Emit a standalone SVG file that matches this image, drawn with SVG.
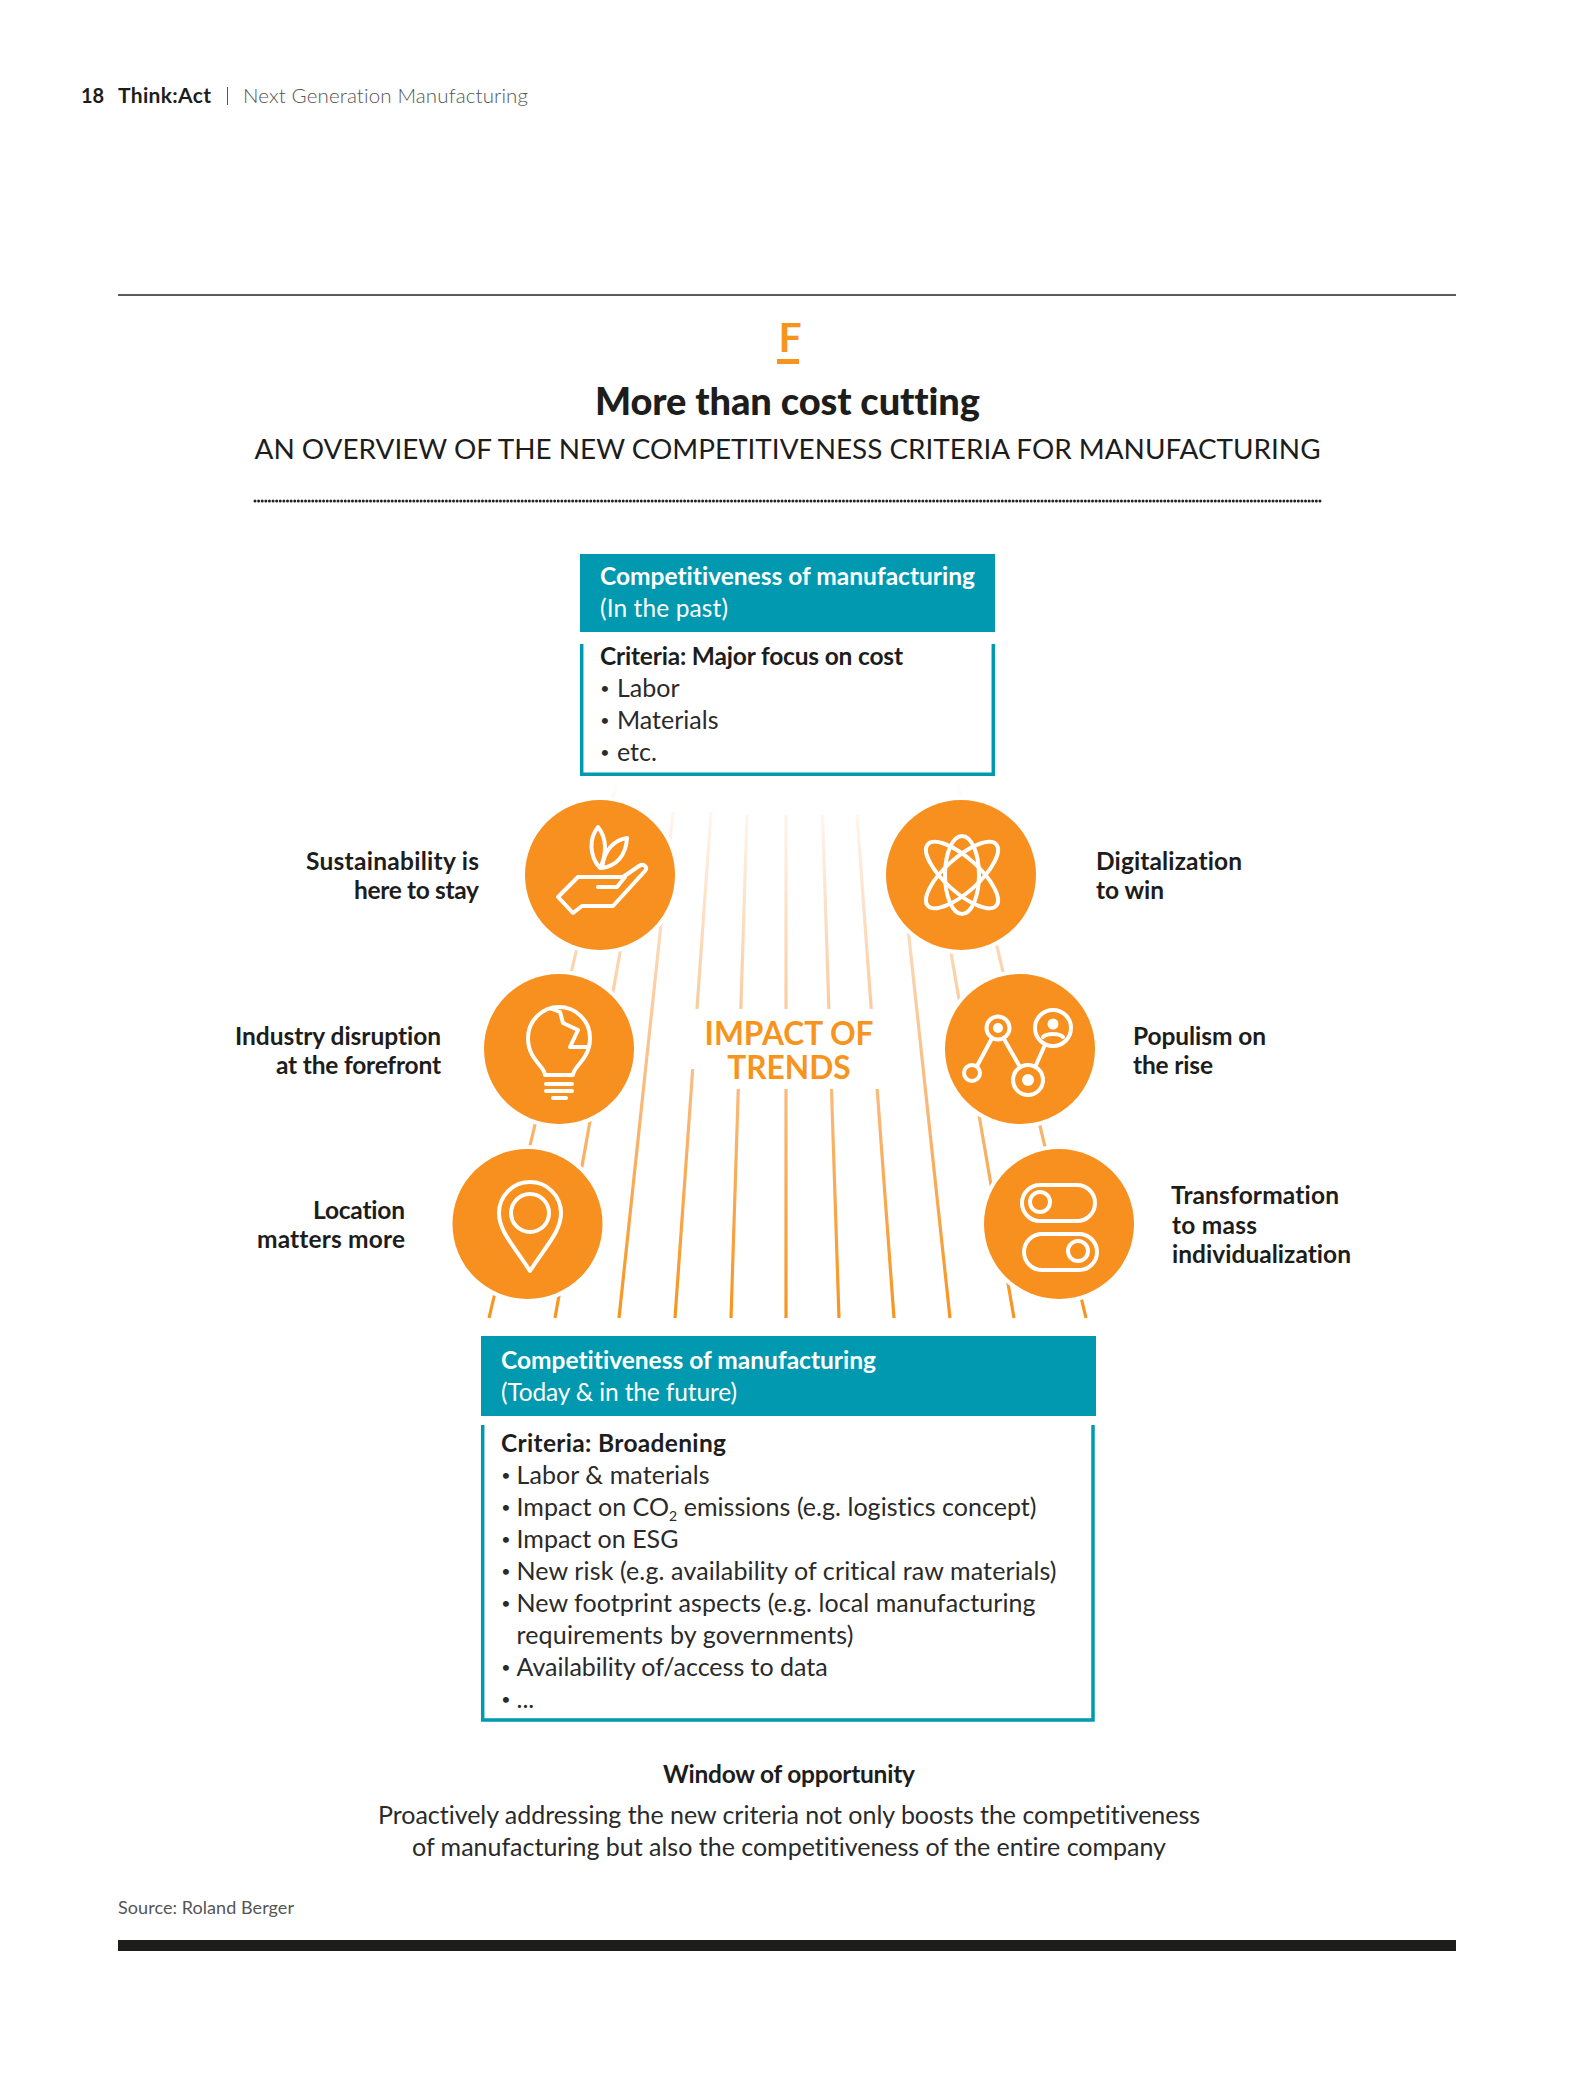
<svg xmlns="http://www.w3.org/2000/svg" width="1575" height="2087" viewBox="0 0 1575 2087">
<defs>
<linearGradient id="fade" gradientUnits="userSpaceOnUse" x1="0" y1="1318" x2="0" y2="790">
<stop offset="0" stop-color="#F7941E"/><stop offset="0.45" stop-color="#F9BC80"/><stop offset="0.8" stop-color="#FCE3CB"/><stop offset="1" stop-color="#FFFBF8"/>
</linearGradient>
</defs>
<style>
text{font-family:"Lato","Liberation Sans",sans-serif;fill:#1d1d1b;font-variant-ligatures:none}
.b{font-weight:700}
.body{font-size:25px;fill:#2a2a2a}
.head{font-size:24.500px;font-weight:700;fill:#fff}
.sub{font-size:24.500px;fill:#fff}
.crit{font-size:24.500px;font-weight:700}
.bul{font-size:16px;text-anchor:middle;fill:#2a2a2a}
.lab{font-size:24.500px;font-weight:700}
.end{text-anchor:end}
.mid{text-anchor:middle}
.teal{fill:#0099B0}
.frame{fill:none;stroke:#0099B0;stroke-width:3.500}
.halo{fill:#fff}
.disc{fill:#F7901E}
.ic{fill:none;stroke:#fff;stroke-width:4;stroke-linejoin:round;stroke-linecap:round}
.dot{fill:#fff}
.ray{stroke:url(#fade);stroke-width:3.200;fill:none}
</style>
<rect width="1575" height="2087" fill="#fff"/>
<g id="page-header">
<text x="81" y="103" class="b" font-size="20">18</text>
<text x="118" y="103" class="b" font-size="21" textLength="93">Think:Act</text>
<rect x="227" y="87" width="1" height="18" fill="#555"/>
<text x="243" y="103" font-size="20.500" textLength="285" style="fill:#555;font-weight:300">Next Generation Manufacturing</text>
</g>
<g id="title">
<rect x="118" y="294.200" width="1338" height="1.600" fill="#333"/>
<text x="790" y="352" class="mid b" font-size="41" style="fill:#F7941E">F</text>
<rect x="777" y="359" width="22" height="5" fill="#F7941E"/>
<text x="787.500" y="415" class="mid" font-size="38" textLength="385" style="font-weight:900">More than cost cutting</text>
<text x="787.500" y="459" class="mid" font-size="27.900" textLength="1066">AN OVERVIEW OF THE NEW COMPETITIVENESS CRITERIA FOR MANUFACTURING</text>
<line x1="255" y1="501" x2="1321" y2="501" stroke="#222" stroke-width="3" stroke-linecap="round" stroke-dasharray="0.01 3.6"/>
</g>
<g id="connectors">
<line class="ray" x1="489" y1="1318" x2="616" y2="784"/>
<line class="ray" x1="555" y1="1318" x2="640" y2="840"/>
<line class="ray" x1="619" y1="1318" x2="673" y2="812"/>
<line class="ray" x1="675" y1="1318" x2="711" y2="812"/>
<line class="ray" x1="731" y1="1318" x2="747" y2="815"/>
<line class="ray" x1="786" y1="1318" x2="786" y2="815"/>
<line class="ray" x1="839" y1="1318" x2="822.500" y2="815"/>
<line class="ray" x1="894" y1="1318" x2="857" y2="815"/>
<line class="ray" x1="950" y1="1318" x2="905" y2="900"/>
<line class="ray" x1="1014" y1="1318" x2="935" y2="860"/>
<line class="ray" x1="1086" y1="1318" x2="958" y2="784"/>
</g>
<g id="impact-label">
<rect class="halo" x="690" y="1009" width="195" height="60"/>
<rect class="halo" x="694" y="1069" width="190" height="20"/>
<text x="789" y="1045" class="mid b" font-size="31.700" style="fill:#F7941E">IMPACT OF</text>
<text x="789" y="1079" class="mid b" font-size="31.700" style="fill:#F7941E">TRENDS</text>
</g>
<g id="box-past">
<rect class="teal" x="580" y="554" width="415" height="78"/>
<text x="600" y="585" class="head" textLength="375">Competitiveness of manufacturing</text>
<text x="600" y="617" class="sub" textLength="128">(In the past)</text>
<path class="frame" d="M581.700 644V774.300H993.300V644"/>
<text x="600" y="664.500" class="crit" textLength="303">Criteria: Major focus on cost</text>
<text x="605" y="694" class="bul">•</text><text x="617" y="697" class="body">Labor</text>
<text x="605" y="726" class="bul">•</text><text x="617" y="729" class="body">Materials</text>
<text x="605" y="758" class="bul">•</text><text x="617" y="761" class="body">etc.</text>
</g>
<g id="node-sustainability">
<circle class="halo" cx="600" cy="875" r="79"/><circle class="disc" cx="600" cy="875" r="75"/>
<path class="ic" d="M598 827C589 838 589 856 600 868C607 855 607 838 598 827Z"/>
<path class="ic" d="M627 838C614 840 604 850 602 868C616 866 626 856 627 838Z"/>
<path class="ic" d="M558 897L578 877H623L639 866C644 863 648 867 645 871L613 906H582L573 913Z"/>
<path class="ic" d="M598 887H617L625 877"/>
<text x="479" y="870" class="lab end" textLength="173">Sustainability is</text>
<text x="479" y="899" class="lab end" textLength="125">here to stay</text>
</g>
<g id="node-digitalization">
<circle class="halo" cx="961" cy="875" r="79"/><circle class="disc" cx="961" cy="875" r="75"/>
<ellipse class="ic" cx="962" cy="875" rx="17" ry="39"/>
<ellipse class="ic" cx="962" cy="875" rx="17" ry="46" transform="rotate(48 962 875)"/>
<ellipse class="ic" cx="962" cy="875" rx="17" ry="46" transform="rotate(-48 962 875)"/>
<text x="1096" y="870" class="lab" textLength="146">Digitalization</text>
<text x="1096" y="899" class="lab" textLength="68">to win</text>
</g>
<g id="node-disruption">
<circle class="halo" cx="559" cy="1049" r="79"/><circle class="disc" cx="559" cy="1049" r="75"/>
<path class="ic" d="M545 1075C545 1066 528 1060 528 1038A31 31 0 1 1 590 1038C590 1060 573 1066 573 1075Z"/>
<path class="ic" d="M552 1009L560 1012L563 1023L578 1030L570 1047H587"/>
<path class="ic" d="M546 1084H572M546 1091H572M553 1098H566" stroke-linecap="butt"/>
<text x="441" y="1045" class="lab end" textLength="206">Industry disruption</text>
<text x="441" y="1074" class="lab end" textLength="165">at the forefront</text>
</g>
<g id="node-populism">
<circle class="halo" cx="1020" cy="1049" r="79"/><circle class="disc" cx="1020" cy="1049" r="75"/>
<circle class="ic" cx="972" cy="1073" r="8"/>
<circle class="ic" cx="998" cy="1028" r="11.500"/><circle class="dot" cx="998" cy="1028" r="5"/>
<circle class="ic" cx="1028" cy="1080" r="15"/><circle class="dot" cx="1028" cy="1080" r="6"/>
<circle class="ic" cx="1053" cy="1028" r="18"/><circle class="dot" cx="1053" cy="1024" r="5.500"/>
<path class="ic" d="M1043 1037C1047 1033 1059 1033 1063 1037"/>
<path class="ic" d="M977 1066L991 1040M1004 1039L1020 1067M1036 1065L1044 1047"/>
<text x="1133" y="1045" class="lab" textLength="133">Populism on</text>
<text x="1133" y="1074" class="lab" textLength="80">the rise</text>
</g>
<g id="node-location">
<circle class="halo" cx="527.500" cy="1224" r="79"/><circle class="disc" cx="527.500" cy="1224" r="75"/>
<path class="ic" d="M530 1271C515 1247 499 1232 499 1213A31 31 0 1 1 561 1213C561 1232 545 1247 530 1271Z"/>
<circle class="ic" cx="530" cy="1213" r="19"/>
<text x="405" y="1219" class="lab end" textLength="92">Location</text>
<text x="405" y="1248" class="lab end" textLength="148">matters more</text>
</g>
<g id="node-transformation">
<circle class="halo" cx="1059" cy="1224" r="79"/><circle class="disc" cx="1059" cy="1224" r="75"/>
<rect class="ic" x="1022" y="1185" width="73" height="36" rx="18"/>
<circle class="ic" cx="1040" cy="1202" r="10"/>
<rect class="ic" x="1024" y="1234" width="73" height="36" rx="18"/>
<circle class="ic" cx="1078" cy="1251" r="10"/>
<text x="1171" y="1204" class="lab" textLength="168">Transformation</text>
<text x="1172" y="1233.500" class="lab" textLength="85">to mass</text>
<text x="1172" y="1263" class="lab" textLength="179">individualization</text>
</g>
<g id="box-future">
<rect class="teal" x="481" y="1336" width="615" height="80"/>
<text x="501" y="1369" class="head" textLength="375">Competitiveness of manufacturing</text>
<text x="501" y="1401" class="sub" textLength="236">(Today &amp; in the future)</text>
<path class="frame" d="M482.700 1425V1720H1093V1425"/>
<text x="501" y="1452" class="crit" textLength="225">Criteria: Broadening</text>
<text x="506" y="1481" class="bul">•</text><text x="516.500" y="1484" class="body" textLength="193">Labor &amp; materials</text>
<text x="506" y="1513" class="bul">•</text><text x="516.500" y="1516" class="body" textLength="520">Impact on CO<tspan font-size="14" dy="5">2</tspan><tspan dy="-5"> emissions (e.g. logistics concept)</tspan></text>
<text x="506" y="1545" class="bul">•</text><text x="516.500" y="1548" class="body">Impact on ESG</text>
<text x="506" y="1577" class="bul">•</text><text x="516.500" y="1580" class="body" textLength="540">New risk (e.g. availability of critical raw materials)</text>
<text x="506" y="1609" class="bul">•</text><text x="516.500" y="1612" class="body" textLength="519">New footprint aspects (e.g. local manufacturing</text>
<text x="516.500" y="1644" class="body" textLength="337">requirements by governments)</text>
<text x="506" y="1673" class="bul">•</text><text x="516.500" y="1676" class="body">Availability of/access to data</text>
<text x="506" y="1705" class="bul">•</text><text x="516.500" y="1708" class="body">...</text>
</g>
<g id="footer">
<text x="789" y="1783" class="mid crit" textLength="252">Window of opportunity</text>
<text x="789" y="1824" class="mid body" textLength="822">Proactively addressing the new criteria not only boosts the competitiveness</text>
<text x="789" y="1856" class="mid body" textLength="754">of manufacturing but also the competitiveness of the entire company</text>
<text x="118" y="1914" font-size="18" textLength="176" style="fill:#555">Source: Roland Berger</text>
<rect x="118" y="1940" width="1338" height="11" fill="#1d1d1b"/>
</g>
</svg>
